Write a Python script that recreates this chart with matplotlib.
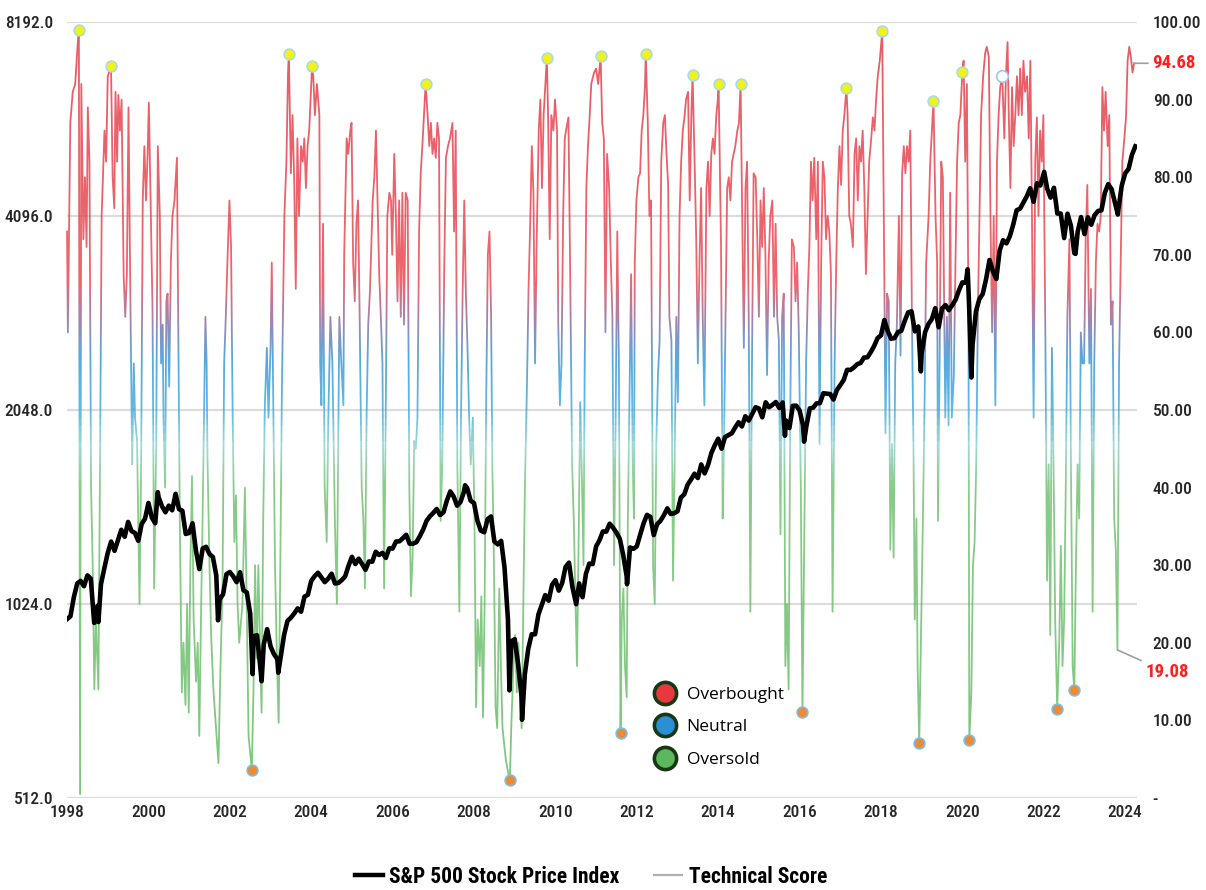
import numpy as np
import matplotlib.pyplot as plt
from matplotlib import font_manager
from matplotlib.lines import Line2D
from matplotlib.patches import Rectangle
from matplotlib.colors import LinearSegmentedColormap

# S&P 500 month-end closes, Jan 1998 .. Mar 2024
sp_monthly = [
    980, 1049, 1102, 1112, 1091, 1134, 1121, 957, 1017, 1099, 1164, 1229,
    1280, 1238, 1286, 1335, 1302, 1373, 1329, 1320, 1283, 1363, 1389, 1469,
    1394, 1366, 1499, 1452, 1421, 1455, 1431, 1518, 1437, 1429, 1315, 1320,
    1366, 1240, 1160, 1249, 1256, 1224, 1211, 1134, 1041, 1060, 1139, 1148,
    1130, 1107, 1147, 1076, 1067, 990, 912, 916, 815, 886, 936, 880,
    856, 841, 848, 917, 964, 975, 990, 1008, 996, 1051, 1058, 1112,
    1131, 1145, 1126, 1107, 1121, 1141, 1102, 1104, 1115, 1130, 1174, 1212,
    1181, 1204, 1181, 1157, 1192, 1191, 1234, 1220, 1229, 1207, 1249, 1248,
    1280, 1281, 1295, 1311, 1270, 1270, 1277, 1304, 1336, 1378, 1401, 1418,
    1438, 1407, 1421, 1482, 1531, 1503, 1455, 1474, 1527, 1549, 1481, 1468,
    1379, 1331, 1323, 1386, 1400, 1280, 1267, 1283, 1166, 969, 896, 903,
    826, 735, 798, 873, 919, 919, 987, 1021, 1057, 1036, 1096, 1115,
    1074, 1104, 1169, 1187, 1089, 1031, 1102, 1049, 1141, 1183, 1181, 1258,
    1286, 1327, 1326, 1364, 1345, 1321, 1292, 1219, 1131, 1253, 1247, 1258,
    1312, 1366, 1408, 1398, 1310, 1362, 1379, 1407, 1441, 1412, 1416, 1426,
    1498, 1515, 1569, 1598, 1631, 1606, 1686, 1633, 1682, 1757, 1806, 1848,
    1783, 1859, 1872, 1884, 1924, 1960, 1931, 2003, 1972, 2018, 2068, 2059,
    1995, 2105, 2068, 2086, 2107, 2063, 2104, 1972, 1920, 2079, 2080, 2044,
    1940, 1932, 2060, 2065, 2097, 2099, 2174, 2171, 2168, 2126, 2199, 2239,
    2279, 2364, 2363, 2384, 2412, 2423, 2470, 2472, 2519, 2575, 2648, 2674,
    2824, 2714, 2641, 2648, 2705, 2718, 2816, 2902, 2914, 2712, 2760, 2507,
    2704, 2784, 2834, 2946, 2752, 2942, 2980, 2926, 2977, 3038, 3141, 3231,
    3226, 2954, 2585, 2912, 3044, 3100, 3271, 3500, 3363, 3270, 3622, 3756,
    3714, 3811, 3973, 4181, 4204, 4298, 4395, 4523, 4308, 4605, 4567, 4766,
    4516, 4374, 4530, 4132, 4132, 3785, 4130, 3955, 3586, 3872, 4080, 3840,
    4077, 3970, 4109, 4169, 4180, 4450, 4589, 4508, 4288, 4194, 4568, 4770,
    4846, 5096, 5254,
]
# intra-month highs / lows
sp_extra = [
    (1998.00, 970), (1998.77, 960), (2000.23, 1527), (2001.71, 966),
    (2002.56, 797), (2002.78, 777), (2003.19, 801), (2007.78, 1565),
    (2008.87, 752), (2009.18, 677), (2010.51, 1023), (2011.76, 1099),
    (2015.64, 1868), (2016.11, 1829), (2018.98, 2351), (2020.13, 3386),
    (2020.22, 2300), (2022.01, 4796), (2022.78, 3577), (2023.82, 4117),
]

# Technical score (year, value)
score_1998_2004 = [
    (1998.00, 73), (1998.02, 60), (1998.08, 87), (1998.14, 91), (1998.20, 92),
    (1998.26, 97), (1998.29, 99), (1998.32, 0.5), (1998.35, 92), (1998.40, 72),
    (1998.44, 80), (1998.48, 71), (1998.51, 89), (1998.55, 82), (1998.59, 40),
    (1998.63, 30), (1998.67, 14), (1998.71, 23), (1998.77, 14), (1998.81, 43),
    (1998.85, 75), (1998.92, 86), (1998.96, 82), (1999.00, 93), (1999.08, 94.3),
    (1999.12, 80), (1999.16, 76), (1999.19, 91), (1999.23, 82), (1999.26, 90.6),
    (1999.30, 86), (1999.34, 90), (1999.39, 67.5), (1999.43, 62), (1999.47, 67.5),
    (1999.51, 89), (1999.55, 67.5), (1999.60, 43), (1999.64, 56), (1999.67, 49),
    (1999.72, 46), (1999.78, 25), (1999.82, 43), (1999.86, 77), (1999.90, 84),
    (1999.94, 77), (1999.98, 83), (2000.01, 89.6), (2000.06, 75), (2000.10, 63),
    (2000.14, 27), (2000.19, 45), (2000.23, 84), (2000.28, 75), (2000.31, 56),
    (2000.35, 61), (2000.37, 49), (2000.41, 40), (2000.44, 64), (2000.47, 65),
    (2000.51, 53), (2000.55, 69), (2000.59, 75), (2000.64, 77), (2000.70, 82.5),
    (2000.73, 62), (2000.77, 36), (2000.82, 13.6), (2000.86, 20), (2000.91, 12),
    (2000.95, 25), (2000.99, 11), (2001.03, 30), (2001.07, 41.5), (2001.11, 23),
    (2001.17, 15), (2001.21, 20), (2001.25, 8), (2001.29, 23), (2001.33, 36),
    (2001.40, 62), (2001.43, 56), (2001.45, 44), (2001.50, 30), (2001.54, 21),
    (2001.60, 13.6), (2001.66, 9), (2001.72, 4.5), (2001.77, 17), (2001.82, 27),
    (2001.86, 56), (2001.90, 62), (2001.94, 69), (2001.99, 77), (2002.03, 71),
    (2002.07, 49), (2002.11, 33), (2002.15, 39), (2002.19, 25), (2002.23, 20),
    (2002.31, 25), (2002.37, 40), (2002.42, 23), (2002.46, 8), (2002.54, 3.6),
    (2002.58, 13.6), (2002.62, 30), (2002.66, 18), (2002.70, 30), (2002.74, 20),
    (2002.78, 11), (2002.82, 36), (2002.86, 50.6), (2002.91, 58), (2002.95, 49),
    (2003.00, 58), (2003.03, 69), (2003.06, 54.5), (2003.11, 30), (2003.16, 17),
    (2003.20, 9.7), (2003.24, 30), (2003.28, 53), (2003.34, 75), (2003.39, 82),
    (2003.43, 93.5), (2003.45, 95.9), (2003.50, 80.5), (2003.54, 88), (2003.58, 80),
    (2003.62, 65.6), (2003.66, 85), (2003.70, 75), (2003.75, 84), (2003.79, 82),
    (2003.83, 85), (2003.87, 78.6), (2003.91, 84), (2003.95, 86), (2004.02, 94.3),
    (2004.05, 93), (2004.09, 88), (2004.14, 92), (2004.20, 88), (2004.22, 56),
    (2004.25, 50.6), (2004.29, 74), (2004.33, 40), (2004.38, 33), (2004.42, 49),
    (2004.47, 62), (2004.52, 56), (2004.58, 36), (2004.63, 25), (2004.69, 62),
]
score_2004_2011 = [
    (2004.74, 56), (2004.79, 50.6), (2004.81, 70), (2004.87, 85), (2004.91, 83),
    (2004.96, 86), (2004.99, 87), (2005.03, 69), (2005.07, 64), (2005.11, 74),
    (2005.15, 77), (2005.19, 62), (2005.24, 40), (2005.28, 36), (2005.32, 27),
    (2005.36, 49), (2005.40, 61), (2005.44, 65), (2005.51, 77), (2005.55, 80),
    (2005.59, 86), (2005.63, 77), (2005.67, 67.5), (2005.71, 62), (2005.75, 56),
    (2005.79, 27), (2005.83, 49), (2005.87, 75), (2005.92, 78), (2005.96, 77),
    (2005.99, 70), (2006.04, 83), (2006.08, 75), (2006.12, 64), (2006.16, 77),
    (2006.20, 62), (2006.24, 78), (2006.28, 61), (2006.32, 78), (2006.37, 77),
    (2006.41, 40), (2006.45, 26), (2006.49, 31), (2006.53, 46), (2006.57, 45),
    (2006.61, 49), (2006.65, 73), (2006.69, 80.5), (2006.73, 84), (2006.77, 88),
    (2006.81, 92), (2006.86, 88), (2006.90, 84), (2006.94, 87), (2006.98, 83),
    (2007.02, 85), (2007.06, 82.5), (2007.10, 87), (2007.14, 85), (2007.18, 35.7),
    (2007.22, 43), (2007.27, 69), (2007.31, 82.5), (2007.36, 84), (2007.41, 85),
    (2007.47, 87), (2007.51, 73), (2007.55, 86), (2007.59, 43), (2007.64, 24),
    (2007.68, 49), (2007.72, 65), (2007.76, 77), (2007.80, 65), (2007.84, 58),
    (2007.88, 49), (2007.92, 43), (2007.97, 49), (2008.01, 36), (2008.05, 11.7),
    (2008.09, 23), (2008.14, 17), (2008.18, 26), (2008.22, 10.4), (2008.26, 25),
    (2008.30, 52), (2008.34, 70), (2008.38, 73), (2008.42, 62), (2008.45, 43),
    (2008.49, 30), (2008.53, 11.7), (2008.57, 9), (2008.62, 27), (2008.66, 17),
    (2008.70, 9), (2008.74, 7), (2008.78, 5), (2008.83, 3.5), (2008.88, 2.3),
    (2008.92, 10), (2008.97, 17), (2009.01, 21), (2009.05, 13.6), (2009.09, 20),
    (2009.13, 15), (2009.17, 9), (2009.21, 24), (2009.25, 40), (2009.30, 53),
    (2009.34, 65.6), (2009.38, 74), (2009.42, 84), (2009.46, 78), (2009.50, 56),
    (2009.54, 72), (2009.59, 86), (2009.63, 90), (2009.67, 78.6), (2009.71, 88),
    (2009.75, 91.6), (2009.79, 95.4), (2009.82, 88), (2009.86, 72), (2009.90, 88),
    (2009.95, 86), (2009.99, 90), (2010.04, 86), (2010.07, 61), (2010.11, 50.6),
    (2010.15, 56), (2010.19, 75), (2010.23, 85), (2010.26, 86), (2010.32, 87.7),
    (2010.36, 69), (2010.41, 43), (2010.45, 36), (2010.49, 26), (2010.53, 17),
    (2010.57, 33), (2010.61, 51), (2010.65, 41.5), (2010.69, 30), (2010.72, 56),
    (2010.76, 78.6), (2010.80, 84), (2010.84, 87.7), (2010.88, 92), (2010.95, 93.5),
    (2011.00, 94), (2011.05, 92), (2011.11, 95.6),
]
score_2011_2018 = [
    (2011.15, 87), (2011.19, 85), (2011.23, 60), (2011.27, 83), (2011.32, 78.6),
    (2011.36, 69.5), (2011.40, 62), (2011.44, 30), (2011.48, 49), (2011.52, 73),
    (2011.56, 56), (2011.60, 8.4), (2011.63, 23), (2011.67, 27), (2011.71, 17),
    (2011.75, 13), (2011.78, 36), (2011.83, 56), (2011.86, 67.5), (2011.90, 43),
    (2011.93, 36), (2011.95, 69), (2011.99, 77), (2012.04, 80), (2012.08, 80.5),
    (2012.12, 86), (2012.16, 88), (2012.20, 91.6), (2012.22, 95.9), (2012.27, 87),
    (2012.31, 75), (2012.35, 77), (2012.40, 30), (2012.44, 25), (2012.48, 46),
    (2012.52, 54.5), (2012.56, 59), (2012.60, 82), (2012.65, 87), (2012.69, 88),
    (2012.73, 83), (2012.77, 79), (2012.80, 62), (2012.85, 59), (2012.89, 28),
    (2012.93, 43), (2012.97, 62), (2013.01, 51), (2013.05, 75), (2013.09, 82),
    (2013.13, 86), (2013.17, 87.7), (2013.21, 90), (2013.26, 91), (2013.30, 77),
    (2013.34, 88), (2013.37, 93.2), (2013.42, 82), (2013.46, 72), (2013.50, 56),
    (2013.54, 69), (2013.58, 78.6), (2013.62, 62), (2013.66, 50.6), (2013.71, 78.6),
    (2013.75, 82), (2013.79, 75), (2013.83, 83), (2013.87, 85), (2013.91, 83),
    (2013.95, 87.7), (2013.99, 90), (2014.01, 92), (2014.07, 71), (2014.11, 36),
    (2014.14, 45), (2014.18, 62), (2014.22, 78.6), (2014.26, 80), (2014.30, 77),
    (2014.34, 82), (2014.38, 83), (2014.42, 84), (2014.47, 86), (2014.51, 87),
    (2014.55, 92), (2014.59, 75), (2014.63, 58), (2014.67, 78.6), (2014.71, 82),
    (2014.75, 62), (2014.79, 24), (2014.83, 56), (2014.87, 80.5), (2014.92, 80),
    (2014.96, 72), (2015.00, 62), (2015.04, 77), (2015.08, 71), (2015.12, 78.6),
    (2015.16, 70), (2015.20, 54.5), (2015.24, 69), (2015.28, 75), (2015.33, 77),
    (2015.37, 62), (2015.41, 74), (2015.45, 62), (2015.49, 59), (2015.53, 34),
    (2015.57, 62), (2015.61, 65), (2015.65, 17), (2015.69, 25), (2015.73, 14),
    (2015.77, 49), (2015.81, 72), (2015.86, 71), (2015.90, 64), (2015.94, 69),
    (2015.98, 60), (2016.03, 40), (2016.07, 11.1), (2016.12, 36), (2016.16, 56),
    (2016.20, 65), (2016.24, 71), (2016.28, 82), (2016.32, 77), (2016.36, 82.5),
    (2016.41, 72), (2016.45, 82), (2016.49, 45.6), (2016.53, 69), (2016.57, 82),
    (2016.61, 80), (2016.65, 72), (2016.69, 75), (2016.73, 73), (2016.77, 67.5),
    (2016.81, 24), (2016.86, 56), (2016.90, 69), (2016.94, 78.6), (2016.98, 84),
    (2017.02, 79), (2017.06, 86), (2017.10, 88), (2017.15, 91.5), (2017.18, 88),
    (2017.22, 75), (2017.26, 74), (2017.31, 71), (2017.35, 83), (2017.39, 85),
    (2017.43, 77), (2017.47, 84), (2017.51, 82), (2017.55, 86), (2017.59, 78.6),
    (2017.63, 67.5), (2017.67, 75), (2017.71, 82), (2017.76, 85), (2017.80, 87.7),
    (2017.84, 86), (2017.88, 90), (2017.92, 93), (2017.97, 95),
]
score_2018_2024 = [
    (2018.03, 98.8), (2018.09, 62), (2018.11, 47), (2018.15, 65), (2018.19, 64),
    (2018.23, 32), (2018.27, 45.6), (2018.31, 31), (2018.35, 56), (2018.39, 61),
    (2018.44, 75), (2018.48, 57), (2018.52, 80.5), (2018.56, 84), (2018.60, 80.5),
    (2018.64, 84), (2018.68, 82), (2018.72, 86), (2018.76, 62), (2018.80, 44),
    (2018.83, 23), (2018.87, 36), (2018.90, 17), (2018.94, 7.1), (2018.99, 23),
    (2019.03, 36), (2019.07, 50.6), (2019.11, 69), (2019.17, 75), (2019.21, 82),
    (2019.25, 86), (2019.29, 89.8), (2019.34, 75), (2019.38, 69), (2019.40, 35.7),
    (2019.44, 56), (2019.48, 82), (2019.52, 80), (2019.58, 49), (2019.62, 62),
    (2019.66, 48), (2019.70, 78), (2019.74, 49), (2019.79, 54.5), (2019.83, 69),
    (2019.87, 82), (2019.91, 87), (2019.95, 88), (2020.00, 93.6), (2020.03, 95),
    (2020.07, 82), (2020.11, 92), (2020.15, 62), (2020.17, 7.5), (2020.22, 13.6),
    (2020.26, 30), (2020.30, 33), (2020.34, 43), (2020.38, 62), (2020.42, 75),
    (2020.46, 88), (2020.51, 93), (2020.56, 96), (2020.60, 96.8), (2020.65, 95.5),
    (2020.69, 75), (2020.73, 60), (2020.77, 75), (2020.81, 50.6), (2020.85, 82),
    (2020.89, 88), (2020.93, 91.6), (2020.98, 93), (2021.03, 85), (2021.07, 93),
    (2021.11, 97.4), (2021.14, 88), (2021.18, 78.6), (2021.22, 91.6), (2021.26, 84),
    (2021.30, 88), (2021.34, 93), (2021.38, 88), (2021.42, 94), (2021.46, 88),
    (2021.50, 95), (2021.54, 91), (2021.59, 93), (2021.63, 85), (2021.67, 95),
    (2021.71, 75), (2021.75, 49), (2021.79, 82), (2021.83, 87.7), (2021.87, 75),
    (2021.91, 86), (2021.95, 82), (2021.99, 88), (2022.04, 59), (2022.08, 28),
    (2022.12, 43), (2022.16, 21), (2022.20, 58), (2022.24, 43), (2022.28, 23),
    (2022.33, 11.5), (2022.38, 20), (2022.42, 32.5), (2022.46, 17), (2022.50, 23),
    (2022.54, 40), (2022.58, 62), (2022.63, 72), (2022.67, 41.5), (2022.71, 17),
    (2022.75, 13.9), (2022.79, 30), (2022.83, 43), (2022.87, 36), (2022.91, 60),
    (2022.95, 56), (2022.99, 56), (2023.03, 72), (2023.07, 79), (2023.12, 56),
    (2023.16, 65.6), (2023.20, 24), (2023.24, 56), (2023.28, 69), (2023.32, 74),
    (2023.36, 73), (2023.40, 75), (2023.44, 91.6), (2023.48, 86), (2023.52, 91),
    (2023.57, 84), (2023.61, 88), (2023.65, 61), (2023.69, 64), (2023.73, 36),
    (2023.77, 32), (2023.81, 19.08), (2023.85, 56), (2023.89, 69), (2023.93, 82),
    (2023.98, 85), (2024.02, 87.7), (2024.06, 95), (2024.10, 96.8), (2024.14, 95.5),
    (2024.18, 93.5), (2024.22, 94.68),
]

peak_years = [1998.29, 1999.08, 2003.45, 2004.02, 2006.81, 2009.79, 2011.11, 2012.22,
              2013.37, 2014.01, 2014.55, 2017.15, 2018.03, 2019.29, 2020.00]
trough_years = [2002.54, 2008.88, 2011.60, 2016.07, 2018.94, 2020.17, 2022.33, 2022.75]
open_years = [2020.98]
low_label_year = 2023.81

left_ticks = [512, 1024, 2048, 4096, 8192]
right_ticks = [0, 10, 20, 30, 40, 50, 60, 70, 80, 90, 100]
x_ticks = list(range(1998, 2025, 2))


def first_font(names):
    for n in names:
        try:
            font_manager.findfont(n, fallback_to_default=False)
            return n
        except ValueError:
            pass
    return 'DejaVu Sans'


narrow_name = first_font(['Liberation Sans Narrow', 'Arial Narrow', 'Roboto Condensed',
                          'DejaVu Sans Condensed', 'Liberation Sans'])
narrow = [narrow_name, 'DejaVu Sans']
tick_col = '#262626'
is_narrow = 'Narrow' in narrow_name or 'Condensed' in narrow_name
tick_size = 12.5 if is_narrow else 11

# ---- build series ----
sp = [(1998 + (i + 1) / 12, v) for i, v in enumerate(sp_monthly)] + sp_extra
sp.sort()
sp_x = np.array([p[0] for p in sp])
sp_y = np.array([p[1] for p in sp])

score = score_1998_2004 + score_2004_2011 + score_2011_2018 + score_2018_2024
sc_x = np.array([p[0] for p in score])
sc_y = np.array([p[1] for p in score])

fig = plt.figure(figsize=(12.06, 8.9), dpi=100)
ax = fig.add_axes([0.0556, 0.1034, 0.8875, 0.8719])
ax.set_xlim(1998, 2024.3)
ax.set_ylim(0, 100)

# gridlines at the left-axis ticks
for t in left_ticks:
    ax.axhline(np.log2(t / 512) / 4 * 100, color='#dcdcdc', lw=1.6, zorder=0)

# technical score, colour changes with level
cmap = LinearSegmentedColormap.from_list('ts', [
    (0.0, '#5fb85f'), (0.40, '#6cbf6c'), (0.455, '#8cd0c8'), (0.50, '#3aa6dc'),
    (0.565, '#2f94d4'), (0.61, '#7a6ea8'), (0.665, '#e6404a'), (1.0, '#e3343e')])
edges = np.arange(0, 101, 1.0)
for lo, hi in zip(edges[:-1], edges[1:]):
    ln, = ax.plot(sc_x, sc_y, color=cmap((lo + hi) / 200), lw=1.3, alpha=0.8, zorder=2)
    clip = Rectangle((1990, lo), 50, hi - lo, transform=ax.transData)
    ln.set_clip_path(clip)

# markers
peak_v = np.interp(peak_years, sc_x, sc_y)
trough_v = np.interp(trough_years, sc_x, sc_y)
open_v = np.interp(open_years, sc_x, sc_y)
ax.scatter(peak_years, peak_v, s=60, color='#f2f21a', edgecolor='#a8dce8', lw=1.2, zorder=5)
ax.scatter(trough_years, trough_v, s=60, color='#f08a32', edgecolor='#78bfe8', lw=1.2, zorder=5)
ax.scatter(open_years, open_v, s=70, color='white', edgecolor='#9cc8e6', lw=1.2, zorder=5)

ax.set_xticks(x_ticks)
ax.set_xticklabels([str(y) for y in x_ticks])
for s in ax.spines.values():
    s.set_visible(False)

# S&P 500 on a log2 axis at the left
ax2 = ax.twinx()
ax2.set_yscale('log', base=2)
ax2.set_ylim(512, 8192)
ax2.plot(sp_x, sp_y, color='black', lw=3.3, zorder=3, solid_joinstyle='round')
for s in ax2.spines.values():
    s.set_visible(False)

# twinx moves the first axis' ticks to the left, so set the sides afterwards
ax.yaxis.tick_right()
ax.set_yticks(right_ticks)
ax.set_yticklabels(['-'] + ['%.2f' % v for v in right_ticks[1:]])
ax.tick_params(axis='y', length=0, pad=11, labelsize=tick_size, labelcolor=tick_col)
ax.tick_params(axis='x', length=0, pad=5, labelsize=tick_size, labelcolor=tick_col)

ax2.yaxis.tick_left()
ax2.set_yticks(left_ticks)
ax2.set_yticklabels(['%.1f' % t for t in left_ticks])
ax2.yaxis.set_minor_locator(plt.NullLocator())
ax2.yaxis.set_minor_formatter(plt.NullFormatter())
ax2.tick_params(axis='y', length=0, pad=10, labelsize=tick_size, labelcolor=tick_col)

for a in (ax, ax2):
    for lab in a.get_xticklabels() + a.get_yticklabels():
        lab.set_family(narrow)
        lab.set_fontweight('medium')

# last value and recent low labels
ax.annotate('%.2f' % sc_y[-1], xy=(sc_x[-1], sc_y[-1]), xytext=(13, 0),
            textcoords='offset points', ha='left', va='center', color='#ff1f1f',
            fontsize=13.5, fontweight='bold', family=narrow, annotation_clip=False,
            arrowprops=dict(arrowstyle='-', color='#a0a0a0', lw=1.2, shrinkA=1, shrinkB=0))
low_v = np.interp(low_label_year, sc_x, sc_y)
ax.annotate('%.2f' % low_v, xy=(low_label_year, low_v), xytext=(20, -16),
            textcoords='offset points', ha='left', va='center', color='#ff1f1f',
            fontsize=13.5, fontweight='bold', family=narrow, annotation_clip=False,
            arrowprops=dict(arrowstyle='-', color='#a0a0a0', lw=1.2, shrinkA=1, shrinkB=0))

# zone legend
zone_handles = [
    Line2D([], [], ls='none', marker='o', ms=16, mfc=c, mec='#163816', mew=2.6)
    for c in ['#e8383e', '#2b8fd6', '#5cb85c']
]
ax2.legend(zone_handles, ['Overbought', 'Neutral', 'Oversold'], loc='upper left',
           bbox_to_anchor=(639 / 1206, 1 - 678 / 890), bbox_transform=fig.transFigure,
           frameon=False, labelspacing=0.95, handletextpad=0.25, borderpad=0,
           prop={'family': ['Open Sans', 'DejaVu Sans'], 'size': 12.5})

# series legend at the bottom
series_handles = [Line2D([], [], color='black', lw=3.2), Line2D([], [], color='#b0b0b0', lw=1.6)]
fig.legend(series_handles, ['S&P 500 Stock Price Index', 'Technical Score'], loc='center',
           bbox_to_anchor=(0.49, 1 - 877 / 890), ncol=2, frameon=False,
           handlelength=1.3, handletextpad=0.3, columnspacing=1.6,
           prop={'family': narrow, 'size': 15.5 if is_narrow else 13.5, 'weight': 'bold'})

fig.savefig('out.png', dpi=100, facecolor='white')
